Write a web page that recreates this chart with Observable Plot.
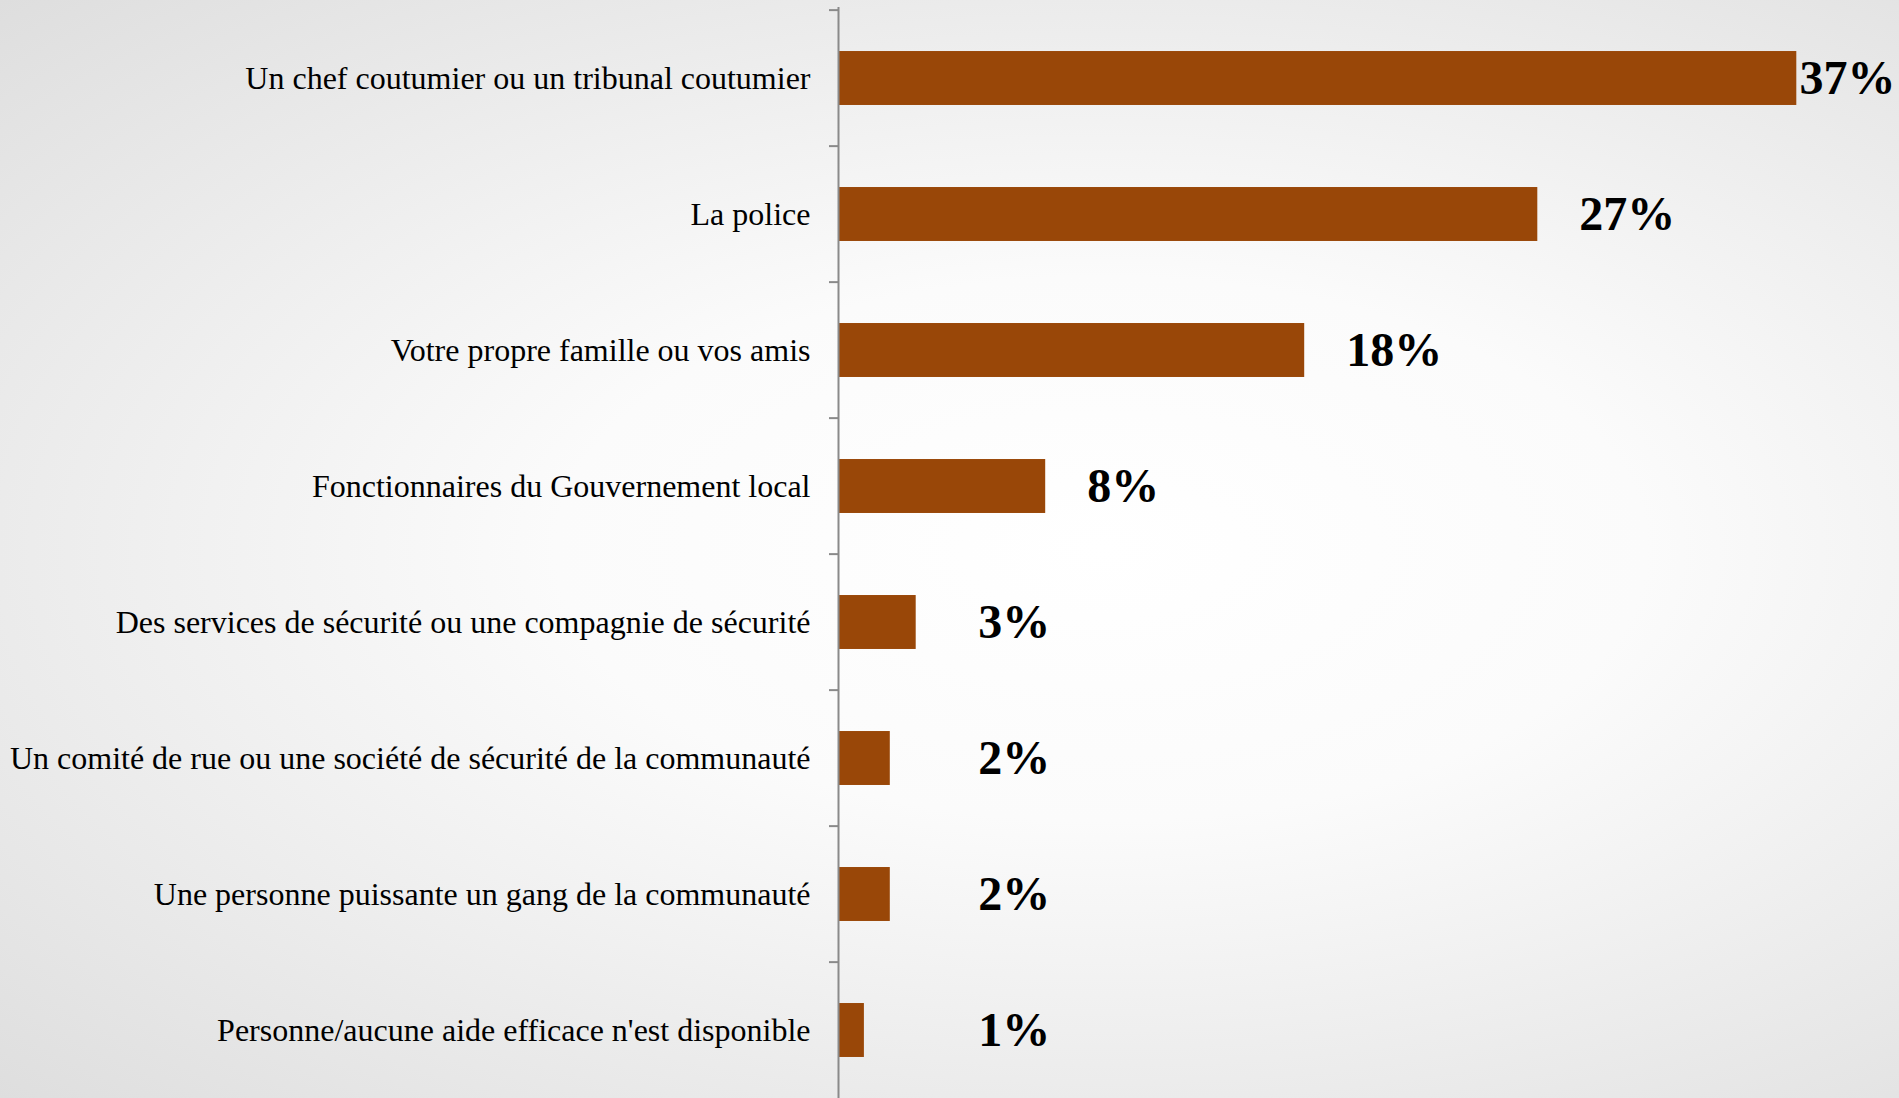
<!DOCTYPE html>
<html>
<head>
<meta charset="utf-8">
<script src="https://cdn.jsdelivr.net/npm/d3@7"></script>
<script src="https://cdn.jsdelivr.net/npm/@observablehq/plot@0.6"></script>
<style>
  html, body { margin: 0; padding: 0; width: 1899px; height: 1098px; overflow: hidden; }
  body { background: radial-gradient(ellipse farthest-corner at 58% 50%, #ffffff 0%, #fbfbfb 35%, #dedede 100%); }
  #chart svg { display: block; }
</style>
</head>
<body>
<div id="chart"></div>
<script>
const categories = [
  "Un chef coutumier ou un tribunal coutumier",
  "La police",
  "Votre propre famille ou vos amis",
  "Fonctionnaires du Gouvernement local",
  "Des services de sécurité ou une compagnie de sécurité",
  "Un comité de rue ou une société de sécurité de la communauté",
  "Une personne puissante un gang de la communauté",
  "Personne/aucune aide efficace n'est disponible"
];
const values = [37, 27, 18, 8, 3, 2, 2, 1];

const data = categories.map((c, i) => ({cat: c, value: values[i]}));

const W = 1899, H = 1098;
const Y0 = 7, Y1 = 1101;
const step = (Y1 - Y0) / categories.length;
const barColor = "#994708";
const axisColor = "#8a8a8a";
const font = "'Liberation Serif', 'Times New Roman', serif";

const chart = Plot.plot({
  width: W,
  height: H,
  marginLeft: 838,
  marginRight: 25,
  marginTop: Y0,
  marginBottom: 0,
  style: {background: "transparent", fontFamily: font, color: "#000", overflow: "visible"},
  x: {domain: [0, 40], axis: null},
  y: {domain: categories, range: [Y0, Y1], padding: 0, axis: null, label: null},
  marks: [
    Plot.barX(data, {x: "value", y: "cat", fill: barColor, insetTop: step * 0.3, insetBottom: step * 0.3}),
    Plot.ruleX([0], {stroke: axisColor, strokeWidth: 2}),
    Plot.axisY({tickSize: 9, dy: -step / 2, tickFormat: () => "", label: null, stroke: axisColor, strokeWidth: 2}),
    Plot.axisY({tickSize: 0, tickPadding: 28, fontSize: 32, label: null, fill: "#000", fontFamily: font}),
    Plot.text(data, {
      x: d => Math.min(Math.max(d.value + 1.6, 5.4), 37.1),
      y: "cat",
      text: d => d.value + "%",
      textAnchor: "start",
      fontSize: 48,
      fontWeight: "bold",
      fontFamily: font,
      fill: "#000"
    })
  ]
});
document.getElementById("chart").appendChild(chart);
</script>
</body>
</html>
